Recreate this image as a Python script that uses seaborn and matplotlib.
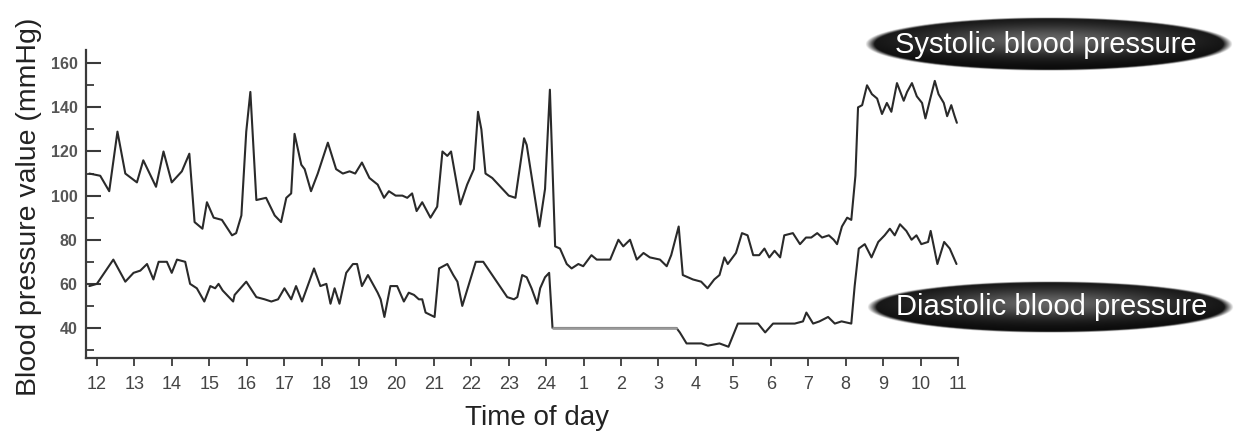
import numpy as np
import pandas as pd
import matplotlib
matplotlib.use("Agg")
import matplotlib.pyplot as plt
from matplotlib.ticker import MultipleLocator, FixedLocator
import seaborn as sns

# ---------------- data ----------------
sys_hours = [11.80, 12.09, 12.33, 12.55, 12.76, 13.07, 13.24, 13.58, 13.78, 14.00,
             14.27, 14.47, 14.61, 14.82, 14.94, 15.12, 15.34, 15.61, 15.72, 15.86,
             15.99, 16.10, 16.26, 16.52, 16.75, 16.92, 17.06, 17.19, 17.28, 17.46,
             17.55, 17.72, 17.90, 18.17, 18.39, 18.57, 18.75, 18.90, 19.08, 19.28,
             19.50, 19.67, 19.80, 19.98, 20.16, 20.29, 20.42, 20.54, 20.69, 20.91,
             21.09, 21.23, 21.36, 21.46, 21.71, 21.89, 22.07, 22.18, 22.27, 22.38,
             22.56, 23.00, 23.18, 23.41, 23.48, 23.82, 23.97, 24.10, 24.24, 24.37,
             24.55, 24.68, 24.86, 24.99, 25.21, 25.35, 25.71, 25.93, 26.06, 26.24,
             26.42, 26.60, 26.77, 27.04, 27.22, 27.34, 27.54, 27.65, 27.92, 28.14,
             28.31, 28.49, 28.63, 28.76, 28.85, 29.07, 29.23, 29.38, 29.53, 29.69,
             29.83, 29.96, 30.10, 30.25, 30.36, 30.59, 30.78, 30.94, 31.08, 31.24,
             31.37, 31.55, 31.68, 31.77, 31.90, 32.04, 32.15, 32.26, 32.33, 32.44,
             32.57, 32.70, 32.84, 32.97, 33.10, 33.22, 33.37, 33.55, 33.64, 33.77,
             33.90, 34.04, 34.13, 34.26, 34.38, 34.48, 34.62, 34.71, 34.82, 34.91,
             34.97]
sys_values = [110, 109, 102, 129, 110, 106, 116, 104, 120, 106,
              111, 119, 88, 85, 97, 90, 89, 82, 83, 91,
              129, 147, 98, 99, 91, 88, 99, 101, 128, 114,
              112, 102, 110, 124, 112, 110, 111, 110, 115, 108,
              105, 99, 102, 100, 100, 99, 101, 93, 97, 90,
              95, 120, 118, 120, 96, 105, 112, 138, 130, 110,
              108, 100, 99, 126, 123, 86, 103, 148, 77, 76,
              69, 67, 69, 68, 73, 71, 71, 80, 77, 80,
              71, 74, 72, 71, 68, 73, 86, 64, 62, 61,
              58, 62, 64, 72, 69, 74, 83, 82, 73, 73,
              76, 72, 75, 72, 82, 83, 78, 81, 81, 83,
              81, 82, 80, 78, 86, 90, 89, 109, 140, 141,
              150, 146, 144, 137, 142, 138, 151, 143, 147, 151,
              145, 142, 135, 144, 152, 146, 142, 136, 141, 136,
              133]

dia_hours = [11.80, 12.00, 12.44, 12.76, 12.98, 13.16, 13.34, 13.51, 13.65, 13.87,
             14.00, 14.14, 14.36, 14.49, 14.67, 14.87, 15.03, 15.16, 15.25, 15.36,
             15.64, 15.68, 15.99, 16.26, 16.48, 16.66, 16.84, 17.01, 17.19, 17.32,
             17.48, 17.80, 17.97, 18.13, 18.24, 18.35, 18.48, 18.66, 18.84, 18.95,
             19.08, 19.24, 19.50, 19.58, 19.68, 19.84, 20.02, 20.20, 20.33, 20.47,
             20.60, 20.69, 20.78, 21.02, 21.14, 21.36, 21.52, 21.63, 21.76, 22.12,
             22.32, 22.96, 23.14, 23.23, 23.36, 23.48, 23.61, 23.76, 23.84, 23.97,
             24.08, 24.17, 27.48, 27.57, 27.75, 28.15, 28.32, 28.63, 28.87, 29.12,
             29.39, 29.66, 29.85, 30.06, 30.28, 30.64, 30.86, 30.95, 31.13, 31.30,
             31.53, 31.71, 31.89, 32.15, 32.24, 32.35, 32.51, 32.69, 32.87, 33.04,
             33.18, 33.31, 33.45, 33.62, 33.76, 33.89, 34.02, 34.20, 34.27, 34.45,
             34.63, 34.78, 34.96]
dia_values = [59, 60, 71, 61, 65, 66, 69, 62, 70, 70,
              65, 71, 70, 60, 58, 52, 59, 58, 60, 57,
              52, 55, 61, 54, 53, 52, 53, 58, 53, 59,
              52, 67, 59, 60, 51, 58, 51, 65, 69, 69,
              59, 64, 56, 53, 45, 59, 59, 52, 56, 55,
              53, 53, 47, 45, 67, 69, 64, 61, 50, 70,
              70, 54, 53, 54, 64, 63, 58, 51, 58, 63,
              65, 40, 40, 38, 33, 33, 32, 33, 31.5, 42,
              42, 42, 38, 42, 42, 42, 43, 47, 42, 43,
              45, 42, 43, 42, 59, 76, 78, 72, 79, 82,
              85, 82, 87, 84, 80, 82, 78, 79, 84, 69,
              79, 76, 69]

# flat (no-reading) stretch of the diastolic trace, drawn lighter
dia_flat_hours = [24.17, 27.48]
dia_flat_values = [40, 40]

tick_hours = list(range(12, 36))
tick_labels = [str(h) for h in range(12, 25)] + [str(h) for h in range(1, 12)]
y_major = [40, 60, 80, 100, 120, 140, 160]

series_labels = ["Systolic blood pressure", "Diastolic blood pressure"]

# ---------------- figure ----------------
sns.set_theme(style="white")
plt.rcParams['font.family'] = ['Liberation Sans', 'DejaVu Sans']

fig = plt.figure(figsize=(12.4, 4.4), dpi=100)
ax = fig.add_axes([86 / 1240, 1 - 358 / 440, 872 / 1240, 308 / 440])

line_col = "#2a2a2a"
sys_df = pd.DataFrame({"hour": sys_hours, "value": sys_values})
dia_df = pd.DataFrame({"hour": dia_hours, "value": dia_values})
flat_df = pd.DataFrame({"hour": dia_flat_hours, "value": dia_flat_values})

sns.lineplot(data=sys_df, x="hour", y="value", ax=ax, color=line_col,
             linewidth=1.5, estimator=None, sort=False)
sns.lineplot(data=dia_df, x="hour", y="value", ax=ax, color=line_col,
             linewidth=1.5, estimator=None, sort=False)
sns.lineplot(data=flat_df, x="hour", y="value", ax=ax, color="#9a9a9a",
             linewidth=2.0, estimator=None, sort=False)

ax.set_xlim(11.71, 35.0)
ax.set_ylim(26.4, 166)

spine_col = "#3a3a3a"
for side in ["top", "right"]:
    ax.spines[side].set_visible(False)
for side in ["left", "bottom"]:
    ax.spines[side].set_color(spine_col)
    ax.spines[side].set_linewidth(1.6)

ax.xaxis.set_major_locator(FixedLocator(tick_hours))
ax.set_xticklabels(tick_labels, fontsize=13, color="#444444")
ax.tick_params(axis="x", direction="out", length=6, width=1.3, color=spine_col,
               pad=7, bottom=True)

ax.yaxis.set_major_locator(FixedLocator(y_major))
ax.yaxis.set_minor_locator(MultipleLocator(10))
ax.set_yticklabels([str(v) for v in y_major], fontsize=11.5, color="#555555",
                   fontweight="bold")
ax.tick_params(axis="y", which="major", direction="in", length=11, width=1.5,
               color=spine_col, pad=6, left=True)
ax.tick_params(axis="y", which="minor", direction="in", length=5.5, width=1.3,
               color=spine_col, left=True)

ax.set_xlabel("Time of day", fontsize=20, color="#222222")
ax.xaxis.set_label_coords(0.517, -0.152)
ax.set_ylabel("Blood pressure value (mmHg)", fontsize=20.5, color="#222222")
ax.yaxis.set_label_coords(-0.05, 0.49)


# ---------------- ellipse labels ----------------
def ellipse_label(rect, text, text_xy):
    lax = fig.add_axes(rect)
    lax.set_axis_off()
    lax.patch.set_alpha(0)
    nx, ny = 400, 80
    X, Y = np.meshgrid(np.linspace(-1, 1, nx), np.linspace(-1, 1, ny))
    r = np.sqrt(X ** 2 + Y ** 2)
    gray = 0.03 + 0.36 * np.exp(-((X / 0.7) ** 2 + ((Y + 0.15) / 0.6) ** 2))
    alpha = np.clip((1 - r) / 0.05, 0, 1)
    img = np.dstack([gray, gray, gray, alpha])
    lax.imshow(img, extent=[0, 1, 0, 1], aspect="auto", interpolation="bilinear")
    lax.set_xlim(0, 1)
    lax.set_ylim(0, 1)
    fig.text(text_xy[0] / 1240, 1 - text_xy[1] / 440, text, color="white",
             fontsize=21, ha="center", va="center")


ellipse_label([865 / 1240, 1 - 71 / 440, 368 / 1240, 54 / 440],
              series_labels[0], (1046, 45))
ellipse_label([867 / 1240, 1 - 333 / 440, 367 / 1240, 52 / 440],
              series_labels[1], (1052, 307))

fig.savefig("out.png", dpi=100, facecolor="white")
